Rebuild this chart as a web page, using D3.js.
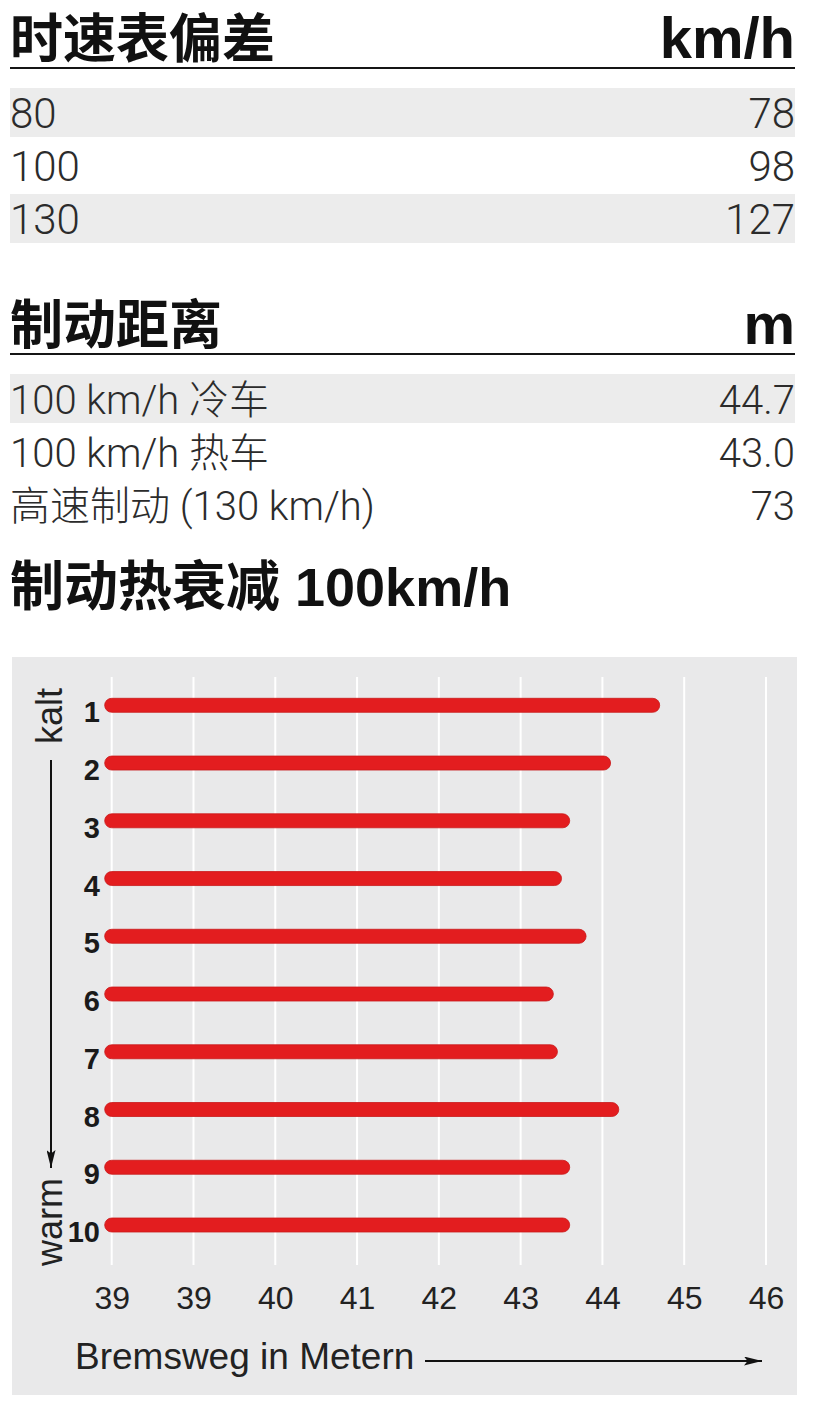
<!DOCTYPE html>
<html lang="zh">
  <head>
    <meta charset="UTF-8" />
    <script src="https://cdnjs.cloudflare.com/ajax/libs/d3/7.8.5/d3.min.js"></script>
    <title>制动热衰减</title>
    <style>
      body {
        margin: 0;
        background: white;
      }
      .title {
        font-family: "Liberation Sans", Arial, "Noto Sans CJK SC", sans-serif;
        font-weight: bold;
        fill: #111;
      }
      .row {
        font-family: Roboto, "Liberation Sans", "Noto Sans CJK SC", sans-serif;
        font-weight: 300;
        fill: #2b2b2b;
      }
      .axis text {
        font-family: "Liberation Sans", Arial, sans-serif;
        fill: #222;
      }
      .run {
        font-family: "Liberation Sans Narrow", "Arial Narrow", "Liberation Sans", sans-serif;
        font-weight: bold;
        fill: #1a1a1a;
      }
    </style>
  </head>
  <body>
    <script>
      // speedometer table
      const speedoShown = ["80", "100", "130"];
      const speedoReal = ["78", "98", "127"];
      const speedoShaded = [true, false, true];

      // braking distance table
      const brakeLabels = ["100 km/h 冷车", "100 km/h 热车", "高速制动 (130 km/h)"];
      const brakeValues = ["44.7", "43.0", "73"];
      const brakeShaded = [true, false, false];

      // fade test, 10 stops from 100 km/h
      const runs = ["1", "2", "3", "4", "5", "6", "7", "8", "9", "10"];
      const distances = [44.7, 44.1, 43.6, 43.5, 43.8, 43.4, 43.45, 44.2, 43.6, 43.6];
      const tickValues = [38, 39, 40, 41, 42, 43, 44, 45, 46];
      const tickLabels = ["39", "39", "40", "41", "42", "43", "44", "45", "46"];

      const W = 819,
        H = 1415;
      const left = 10,
        right = 795;

      const svg = d3
        .select("body")
        .append("svg")
        .attr("width", W)
        .attr("height", H);

      // ---- section helper: title + unit + rule + rows ----
      function table(top, title, unit, labels, values, shaded, fontSize) {
        const g = svg.append("g").attr("transform", `translate(0,${top})`);
        g.append("text")
          .attr("class", "title")
          .attr("x", left)
          .attr("y", 0)
          .attr("font-size", 53)
          .text(title);
        g.append("text")
          .attr("class", "title")
          .attr("x", right)
          .attr("y", 0)
          .attr("text-anchor", "end")
          .attr("font-size", 58)
          .text(unit);
        g.append("line")
          .attr("x1", left)
          .attr("x2", right)
          .attr("y1", 10)
          .attr("y2", 10)
          .attr("stroke", "#151515")
          .attr("stroke-width", 2);

        const rowY = d3
          .scalePoint()
          .domain(d3.range(labels.length))
          .range([55, 55 + 53 * (labels.length - 1)]);

        g.append("g")
          .selectAll("rect")
          .data(labels)
          .join("rect")
          .attr("x", left)
          .attr("y", function (d, i) {
            return rowY(i) - 25;
          })
          .attr("width", right - left)
          .attr("height", 49)
          .attr("fill", function (d, i) {
            return shaded[i] ? "#ececec" : "none";
          });

        g.append("g")
          .selectAll("text")
          .data(labels)
          .join("text")
          .attr("class", "row")
          .attr("x", left)
          .attr("y", function (d, i) {
            return rowY(i) + 15;
          })
          .attr("font-size", fontSize)
          .text(function (d) {
            return d;
          });

        g.append("g")
          .selectAll("text")
          .data(values)
          .join("text")
          .attr("class", "row")
          .attr("x", right)
          .attr("y", function (d, i) {
            return rowY(i) + 15;
          })
          .attr("text-anchor", "end")
          .attr("font-size", fontSize)
          .text(function (d) {
            return d;
          });
      }

      table(58, "时速表偏差", "km/h", speedoShown, speedoReal, speedoShaded, 42);
      table(344, "制动距离", "m", brakeLabels, brakeValues, brakeShaded, 40);

      svg
        .append("text")
        .attr("class", "title")
        .attr("x", left)
        .attr("y", 606)
        .attr("font-size", 54)
        .text("制动热衰减 100km/h");

      // ---- fade chart ----
      svg
        .append("rect")
        .attr("x", 12)
        .attr("y", 657)
        .attr("width", 785)
        .attr("height", 738)
        .attr("fill", "#e9e9ea");

      const x = d3.scaleLinear().domain([38, 46]).range([111.7, 766]);
      const y = d3.scalePoint().domain(runs).range([705.3, 1225]);

      // white grid lines
      svg
        .append("g")
        .selectAll("line")
        .data(tickValues)
        .join("line")
        .attr("x1", function (d) {
          return x(d);
        })
        .attr("x2", function (d) {
          return x(d);
        })
        .attr("y1", 677)
        .attr("y2", 1265)
        .attr("stroke", "white")
        .attr("stroke-width", 2);

      // tick labels via axis
      const xAxis = d3
        .axisBottom(x)
        .tickValues(tickValues)
        .tickSize(0)
        .tickPadding(0)
        .tickFormat(function (d, i) {
          return tickLabels[i];
        });
      const axisG = svg
        .append("g")
        .attr("class", "axis")
        .attr("transform", "translate(0,1309)")
        .call(xAxis);
      axisG.select(".domain").remove();
      axisG
        .selectAll("text")
        .attr("font-size", 32)
        .attr("dy", 0)
        .attr("y", 0);

      // bars, rounded ends
      const barH = 14;
      svg
        .append("g")
        .selectAll("rect")
        .data(distances)
        .join("rect")
        .attr("x", x(38) - barH / 2)
        .attr("y", function (d, i) {
          return y(runs[i]) - barH / 2;
        })
        .attr("width", function (d) {
          return x(d) - x(38) + barH / 2;
        })
        .attr("height", barH)
        .attr("rx", barH / 2)
        .attr("fill", "#e31d1f")
        .attr("stroke", "#c9191b")
        .attr("stroke-width", 0.8);

      // run numbers
      svg
        .append("g")
        .selectAll("text")
        .data(runs)
        .join("text")
        .attr("class", "run")
        .attr("x", 100)
        .attr("y", function (d) {
          return y(d) + 17;
        })
        .attr("text-anchor", "end")
        .attr("font-size", 29)
        .text(function (d) {
          return d;
        });

      // arrow head
      svg
        .append("defs")
        .append("marker")
        .attr("id", "head")
        .attr("viewBox", "0 0 10 10")
        .attr("preserveAspectRatio", "none")
        .attr("refX", 10)
        .attr("refY", 5)
        .attr("markerWidth", 18)
        .attr("markerHeight", 9)
        .attr("markerUnits", "userSpaceOnUse")
        .attr("orient", "auto")
        .append("path")
        .attr("d", "M0,0 L10,5 L0,10 L2,5 Z")
        .attr("fill", "#111");

      // kalt -> warm
      svg
        .append("text")
        .attr("transform", "translate(62,716) rotate(-90)")
        .attr("text-anchor", "middle")
        .attr("font-family", "Liberation Sans, Arial, sans-serif")
        .attr("font-size", 36)
        .attr("fill", "#222")
        .text("kalt");
      svg
        .append("line")
        .attr("x1", 51)
        .attr("x2", 51)
        .attr("y1", 760)
        .attr("y2", 1168)
        .attr("stroke", "#111")
        .attr("stroke-width", 2)
        .attr("marker-end", "url(#head)");
      svg
        .append("text")
        .attr("transform", "translate(62,1222) rotate(-90)")
        .attr("text-anchor", "middle")
        .attr("font-family", "Liberation Sans, Arial, sans-serif")
        .attr("font-size", 36)
        .attr("fill", "#222")
        .text("warm");

      // x title with arrow
      svg
        .append("text")
        .attr("x", 75)
        .attr("y", 1369)
        .attr("font-family", "Liberation Sans, Arial, sans-serif")
        .attr("font-size", 37)
        .attr("fill", "#222")
        .text("Bremsweg in Metern");
      svg
        .append("line")
        .attr("x1", 425)
        .attr("x2", 762)
        .attr("y1", 1361)
        .attr("y2", 1361)
        .attr("stroke", "#111")
        .attr("stroke-width", 2)
        .attr("marker-end", "url(#head)");
    </script>
  </body>
</html>
